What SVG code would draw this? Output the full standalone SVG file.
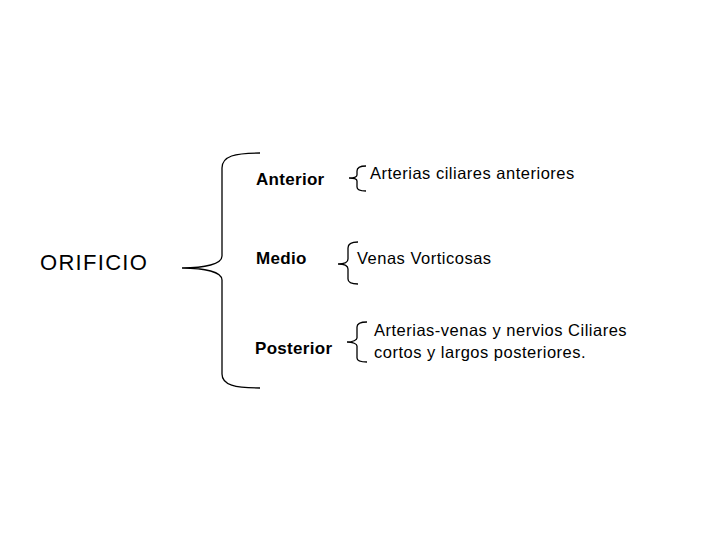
<svg xmlns="http://www.w3.org/2000/svg" width="720" height="540" viewBox="0 0 720 540">
<style>
.t{font-family:"Liberation Sans",Arial,sans-serif;fill:#000}
.b{font-weight:bold;font-size:17px;letter-spacing:0.3px}
.n{font-size:16.5px;letter-spacing:0.5px}
.br{fill:none;stroke:#000;stroke-width:1.3}
</style>
<rect width="720" height="540" fill="#fff"/>
<g id="orificio"><text class="t" x="40" y="270" font-size="22" letter-spacing="1.3">ORIFICIO</text></g>
<g id="anterior"><text class="t b" x="256" y="185">Anterior</text></g>
<g id="medio"><text class="t b" x="256" y="264">Medio</text></g>
<g id="posterior"><text class="t b" x="255" y="354">Posterior</text></g>
<g id="arterias-ant"><text class="t n" x="370" y="179">Arterias ciliares anteriores</text></g>
<g id="venas"><text class="t n" x="357" y="264">Venas Vorticosas</text></g>
<g id="arterias-post"><text class="t n" x="374" y="336">Arterias-venas y nervios Ciliares</text><text class="t n" x="374" y="358">cortos y largos posteriores.</text></g>
<g id="connectors">
<path class="br" d="M260,153 C235,153 222,156 222,168 L222,256 C222,264 205,268 182,268 C205,268 222,272 222,280 L222,374 C222,385 235,388 260,388"/>
<path class="br" d="M366,166 C360,166 357,167 357,171 L357,175 C357,177 353,178 349,178 C353,178 357,179 357,181 L357,187 C357,190 360,191 366,191"/>
<path class="br" d="M358,242 C352,242 348,244 348,248 L348,259 C348,262 344,264 338,264 C344,264 348,266 348,269 L348,279 C348,283 352,284 358,284"/>
<path class="br" d="M367,322 C361,322 357,323 357,327 L357,338 C357,340 353,342 347,342 C353,342 357,344 357,346 L357,358 C357,361 361,362 367,362"/>
</g>
</svg>
